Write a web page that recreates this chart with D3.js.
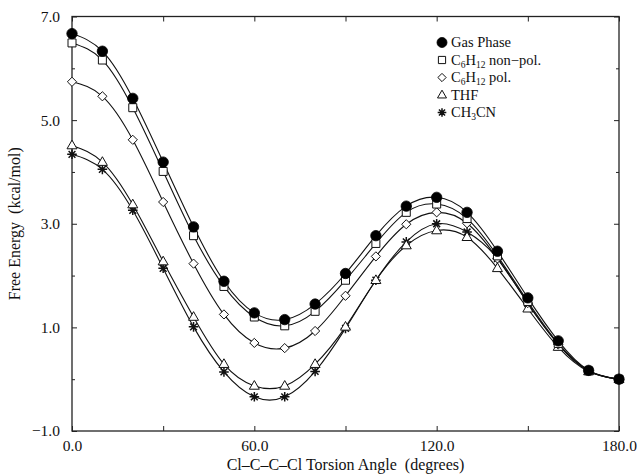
<!DOCTYPE html>
<html>
<head>
<meta charset="utf-8">
<script src="https://cdn.jsdelivr.net/npm/d3@7"></script>
<style>
  html, body { margin: 0; padding: 0; background: #fff; }
  svg { display: block; }
  text { font-family: "Liberation Serif", "Times New Roman", "DejaVu Serif", serif; fill: #111; }
</style>
</head>
<body>
<svg id="chart" width="637" height="475"></svg>
<script>
// ---- data ----
const angles = [0, 10, 20, 30, 40, 50, 60, 70, 80, 90, 100, 110, 120, 130, 140, 150, 160, 170, 180];
const gasPhase   = [6.67, 6.33, 5.42, 4.19, 2.94, 1.89, 1.28, 1.15, 1.45, 2.04, 2.77, 3.34, 3.51, 3.22, 2.47, 1.57, 0.74, 0.17, 0.00];
const c6h12NonPol = [6.49, 6.16, 5.24, 4.01, 2.77, 1.79, 1.20, 1.03, 1.31, 1.91, 2.62, 3.22, 3.38, 3.10, 2.38, 1.50, 0.69, 0.16, 0.00];
const c6h12Pol   = [5.74, 5.46, 4.62, 3.42, 2.23, 1.25, 0.70, 0.60, 0.93, 1.61, 2.37, 2.99, 3.22, 3.01, 2.33, 1.47, 0.67, 0.16, 0.00];
const thf        = [4.51, 4.19, 3.37, 2.27, 1.20, 0.29, -0.13, -0.13, 0.29, 1.01, 1.91, 2.58, 2.87, 2.74, 2.14, 1.36, 0.62, 0.15, 0.00];
const ch3cn      = [4.34, 4.05, 3.26, 2.14, 1.01, 0.14, -0.34, -0.34, 0.15, 0.98, 1.91, 2.65, 3.00, 2.84, 2.33, 1.46, 0.68, 0.17, 0.00];
const seriesNames = ["Gas Phase", "C6H12 non-pol.", "C6H12 pol.", "THF", "CH3CN"];
const xTickValues = [0, 30, 60, 90, 120, 150, 180];
const xTickLabels = ["0.0", "", "60.0", "", "120.0", "", "180.0"];
const yTickValues = [-1, 0, 1, 2, 3, 4, 5, 6, 7];
const yTickLabels = ["\u22121.0", "", "1.0", "", "3.0", "", "5.0", "", "7.0"];

// ---- layout ----
const svg = d3.select("#chart");
const x = d3.scaleLinear().domain([0, 180]).range([72, 619]);
const y = d3.scaleLinear().domain([-1, 7]).range([431, 16.5]);
const FONT = '"Liberation Serif", "Times New Roman", serif';

// frame
svg.append("rect")
  .attr("x", x(0)).attr("y", y(7))
  .attr("width", x(180) - x(0)).attr("height", y(-1) - y(7))
  .attr("fill", "none").attr("stroke", "#222").attr("stroke-width", 1.3);

// axes (ticks inward)
const xAxisB = d3.axisBottom(x).tickValues(xTickValues).tickSizeInner(-5).tickSizeOuter(0)
  .tickFormat((d, i) => xTickLabels[i]);
const gxb = svg.append("g").attr("transform", `translate(0,${y(-1)})`).call(xAxisB);
const xAxisT = d3.axisTop(x).tickValues(xTickValues).tickSizeInner(-5).tickSizeOuter(0).tickFormat("");
const gxt = svg.append("g").attr("transform", `translate(0,${y(7)})`).call(xAxisT);

const yAxisL = d3.axisLeft(y).tickValues(yTickValues)
  .tickSizeInner(-4).tickSizeOuter(0)
  .tickFormat((d, i) => yTickLabels[i]).tickPadding(12);
const gyl = svg.append("g").attr("transform", `translate(${x(0)},0)`).call(yAxisL);
const yAxisR = d3.axisRight(y).tickValues(yTickValues).tickSizeInner(-4).tickSizeOuter(0).tickFormat("");
const gyr = svg.append("g").attr("transform", `translate(${x(180)},0)`).call(yAxisR);

[gxb, gxt, gyl, gyr].forEach(g => {
  g.select(".domain").attr("stroke", "none");
  g.selectAll(".tick line").attr("stroke", "#222").attr("stroke-width", 1);
  g.selectAll(".tick text")
    .style("font-family", FONT)
    .style("font-size", "15.5px").attr("fill", "#111");
});
gyl.selectAll(".tick line").attr("x2", (d) => (d % 2 === 0 ? 3 : 5));
gyr.selectAll(".tick line").attr("x2", (d) => (d % 2 === 0 ? -3 : -5));
gxb.selectAll(".tick text").attr("dy", "0.71em").attr("y", 9);

// axis titles
svg.append("text")
  .attr("x", 345.5).attr("y", 470)
  .attr("text-anchor", "middle").style("font-size", "16px")
  .attr("xml:space", "preserve")
  .text("Cl\u2013C\u2013C\u2013Cl Torsion Angle  (degrees)");
svg.append("text")
  .attr("transform", `translate(20,${(y(-1) + y(7)) / 2}) rotate(-90)`)
  .attr("text-anchor", "middle").style("font-size", "16px")
  .attr("xml:space", "preserve")
  .text("Free Energy  (kcal/mol)");

// ---- symbols ----
const symCircle = { draw(ctx, s) { const r = s; ctx.moveTo(r, 0); ctx.arc(0, 0, r, 0, 2 * Math.PI); } };
const symSquare = { draw(ctx, s) { ctx.rect(-s, -s, 2 * s, 2 * s); } };
const symDiamond = { draw(ctx, s) { ctx.moveTo(0, -s); ctx.lineTo(s, 0); ctx.lineTo(0, s); ctx.lineTo(-s, 0); ctx.closePath(); } };
const symTriangle = { draw(ctx, s) { const h = s * 1.732; ctx.moveTo(0, -h * 0.62); ctx.lineTo(s, h * 0.38); ctx.lineTo(-s, h * 0.38); ctx.closePath(); } };
const symStar = { draw(ctx, s) {
  for (let k = 0; k < 4; k++) {
    const a = k * Math.PI / 4;
    ctx.moveTo(-s * Math.cos(a), -s * Math.sin(a));
    ctx.lineTo(s * Math.cos(a), s * Math.sin(a));
  }
} };

const series = [
  { name: seriesNames[0], values: gasPhase, sym: symCircle, size: 5.2, fill: "#000", stroke: "#000", sw: 0.8 },
  { name: seriesNames[1], values: c6h12NonPol, sym: symSquare, size: 4, fill: "#fff", stroke: "#111", sw: 1 },
  { name: seriesNames[2], values: c6h12Pol, sym: symDiamond, size: 4.6, fill: "#fff", stroke: "#111", sw: 1 },
  { name: seriesNames[3], values: thf, sym: symTriangle, size: 5, fill: "#fff", stroke: "#111", sw: 1 },
  { name: seriesNames[4], values: ch3cn, sym: symStar, size: 4.8, fill: "none", stroke: "#111", sw: 1.5 }
];

const line = d3.line().x((d) => x(d[0])).y((d) => y(d[1])).curve(d3.curveNatural);

const gLines = svg.append("g");
series.forEach(s => {
  const pts = angles.map((a, i) => [a, s.values[i]]);
  gLines.append("path").attr("d", line(pts))
    .attr("fill", "none").attr("stroke", "#111").attr("stroke-width", 1.1);
});

const gMarks = svg.append("g");
series.slice().reverse().forEach(s => {
  const pts = angles.map((a, i) => [a, s.values[i]]);
  gMarks.append("g").selectAll("path").data(pts).join("path")
    .attr("transform", (d) => `translate(${x(d[0])},${y(d[1])})`)
    .attr("d", d3.symbol().type(s.sym).size(s.size))
    .attr("fill", s.fill).attr("stroke", s.stroke).attr("stroke-width", s.sw);
});

// ---- legend ----
const legend = svg.append("g");
const legendY = [47, 64.5, 82, 99.5, 117];
const legendParts = [
  [["Gas Phase", false]],
  [["C", false], ["6", true], ["H", false], ["12", true], [" non\u2212pol.", false]],
  [["C", false], ["6", true], ["H", false], ["12", true], [" pol.", false]],
  [["THF", false]],
  [["CH", false], ["3", true], ["CN", false]]
];
series.forEach((s, i) => {
  const ly = legendY[i];
  legend.append("path")
    .attr("transform", `translate(442,${ly - 4.5})`)
    .attr("d", d3.symbol().type(s.sym).size(i === 0 ? 5 : s.size * 0.9))
    .attr("fill", s.fill).attr("stroke", s.stroke).attr("stroke-width", s.sw);
  const t = legend.append("text").attr("x", 451).attr("y", ly)
    .style("font-size", "14.5px").attr("xml:space", "preserve");
  let prevSub = false;
  legendParts[i].forEach(([txt, sub]) => {
    const ts = t.append("tspan").text(txt);
    const dy = sub ? (prevSub ? 0 : 3) : (prevSub ? -3 : 0);
    ts.attr("dy", dy);
    if (sub) ts.style("font-size", "9.5px");
    prevSub = sub;
  });
});
</script>
</body>
</html>
